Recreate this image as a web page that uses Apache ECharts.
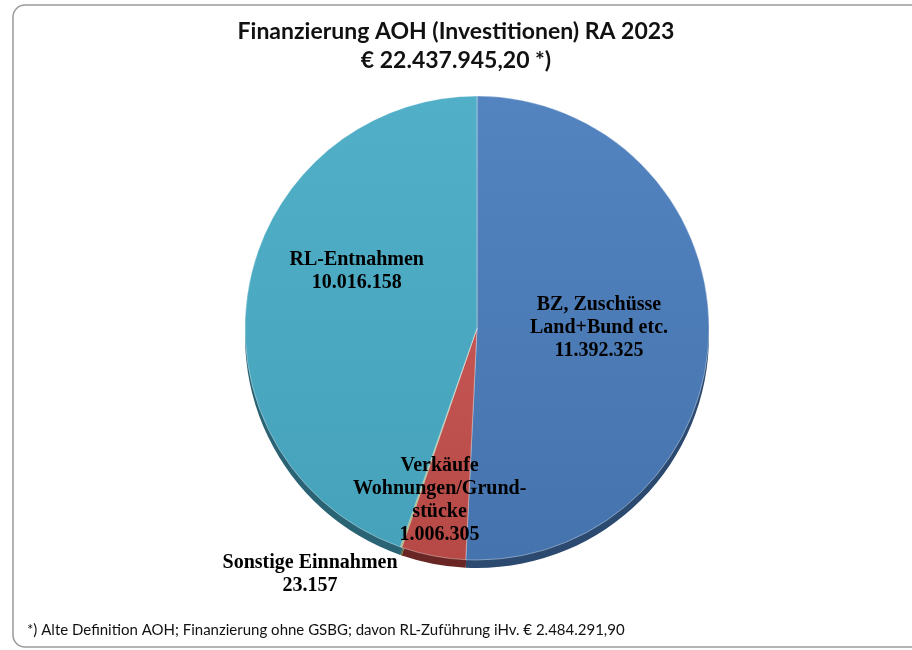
<!DOCTYPE html>
<html>
<head>
<meta charset="utf-8">
<script src="https://cdn.jsdelivr.net/npm/echarts@6/dist/echarts.min.js"></script>
<style>
  html, body { margin: 0; padding: 0; background: #fff; }
  #chart { width: 912px; height: 650px; }
</style>
</head>
<body>
<div id="chart"></div>
<script>
// slices, clockwise from 12 o'clock
const categories = [
  "BZ, Zuschüsse\nLand+Bund etc.",
  "Verkäufe\nWohnungen/Grund-\nstücke",
  "Sonstige Einnahmen",
  "RL-Entnahmen"
];
const values = [11392325, 1006305, 23157, 10016158];
const valueLabels = ["11.392.325", "1.006.305", "23.157", "10.016.158"];

const titleLines = ["Finanzierung AOH (Investitionen) RA 2023", "€ 22.437.945,20 *)"];
const footnote = "*) Alte Definition AOH; Finanzierung ohne GSBG; davon RL-Zuführung iHv. € 2.484.291,90";

// top / bottom shade of each slice face, plus the darker rim
const topColors = ["#5384C0", "#C45552", "#9FBF5D", "#51AFC8"];
const bottomColors = ["#4573AD", "#B64946", "#8EAD50", "#45A2BA"];
const rimColors = ["#2C4A70", "#6A2624", "#5A6E33", "#2A6373"];
const labelOffsets = [[3, -3], [-15, 55], [-128, 134], [-3, -37]];

const chart = echarts.init(document.getElementById("chart"));

const center = [477, 328];
const radius = 232;

const faceData = values.map((v, i) => ({
  name: categories[i],
  value: v,
  itemStyle: {
    color: new echarts.graphic.LinearGradient(0, 0, 0, 1, [
      { offset: 0, color: topColors[i] },
      { offset: 1, color: bottomColors[i] }
    ])
  },
  label: { offset: labelOffsets[i] }
}));

const rimData = values.map((v, i) => ({
  name: categories[i],
  value: v,
  itemStyle: { color: rimColors[i] }
}));

const option = {
  animation: false,
  title: {
    text: titleLines.join("\n"),
    left: "center",
    top: 12,
    textStyle: {
      fontFamily: "Lato",
      fontSize: 23,
      fontWeight: "bold",
      color: "#111",
      lineHeight: 29
    }
  },
  graphic: [
    {
      type: "rect",
      shape: { x: 13, y: 5, width: 920, height: 642, r: 12 },
      style: { fill: "none", stroke: "#9a9a9a", lineWidth: 1.5 },
      z: -10
    },
    {
      type: "text",
      left: 27,
      top: 623,
      style: {
        text: footnote,
        fontFamily: "Lato",
        fontSize: 15,
        fill: "#111"
      }
    }
  ],
  series: [
    {
      type: "pie",
      center: [center[0], center[1] + 8],
      radius: radius,
      startAngle: 90,
      clockwise: true,
      silent: true,
      z: 1,
      label: { show: false },
      labelLine: { show: false },
      data: rimData
    },
    {
      type: "pie",
      center: center,
      radius: radius,
      startAngle: 90,
      clockwise: true,
      z: 2,
      itemStyle: { borderColor: "rgba(255,255,255,0.45)", borderWidth: 0.8 },
      label: {
        show: true,
        position: "inside",
        fontFamily: "Liberation Serif",
        fontSize: 20,
        fontWeight: "bold",
        color: "#000",
        lineHeight: 23,
        formatter: (p) => p.name + "\n" + valueLabels[p.dataIndex]
      },
      labelLine: { show: false },
      data: faceData
    }
  ]
};

chart.setOption(option);
</script>
</body>
</html>
